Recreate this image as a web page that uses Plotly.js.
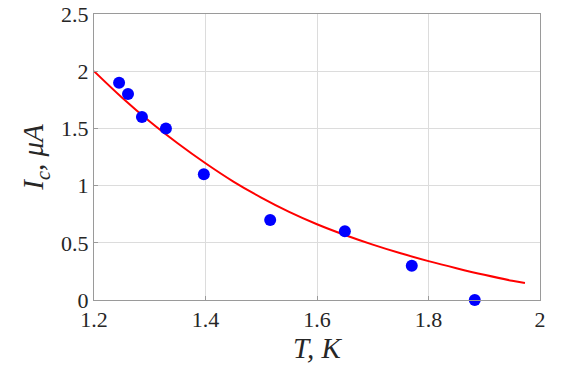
<!DOCTYPE html>
<html>
<head>
<meta charset="utf-8">
<script src="https://cdn.plot.ly/plotly-3.0.1.min.js"></script>
<style>html,body{margin:0;padding:0;background:#fff;}#chart{width:567px;height:371px;}</style>
</head>
<body>
<div id="chart"></div>
<script>
// Measured data points
const tempK = [1.245, 1.261, 1.286, 1.329, 1.397, 1.516, 1.650, 1.770, 1.883];
const currentUA = [1.90, 1.80, 1.60, 1.50, 1.10, 0.70, 0.60, 0.30, 0.00];

// Fit curve
const fitT = [1.20, 1.25, 1.30, 1.35, 1.40, 1.45, 1.50, 1.55, 1.60, 1.65, 1.70, 1.75, 1.80, 1.85, 1.90, 1.95, 1.973];
const fitI = [2.000, 1.770, 1.560, 1.370, 1.195, 1.035, 0.895, 0.770, 0.662, 0.568, 0.484, 0.408, 0.340, 0.278, 0.220, 0.168, 0.148];

const xTicks = [1.2, 1.4, 1.6, 1.8, 2];
const xTickLabels = ['1.2', '1.4', '1.6', '1.8', '2'];
const yTicks = [0, 0.5, 1, 1.5, 2, 2.5];
const yTickLabels = ['0', '0.5', '1', '1.5', '2', '2.5'];

const serif = 'Liberation Serif';

const traces = [
  {
    x: fitT, y: fitI, type: 'scatter', mode: 'lines',
    line: {color: '#ff0000', width: 2, shape: 'spline', smoothing: 1},
    hoverinfo: 'skip', cliponaxis: false
  },
  {
    x: tempK, y: currentUA, type: 'scatter', mode: 'markers',
    marker: {color: '#0000ff', size: 12},
    cliponaxis: false
  }
];

function axis(extra) {
  return Object.assign({
    showline: true, mirror: true, linecolor: '#9a9a9a', linewidth: 1,
    showgrid: true, gridcolor: '#dcdcdc', gridwidth: 1,
    zeroline: false,
    ticks: 'inside', ticklen: 4, tickcolor: '#9a9a9a',
    tickfont: {family: serif, size: 22, color: '#262626'}
  }, extra);
}

const layout = {
  width: 567, height: 371,
  margin: {l: 94, r: 27, t: 14, b: 71},
  paper_bgcolor: '#ffffff', plot_bgcolor: '#ffffff',
  font: {family: serif, size: 22, color: '#262626'},
  showlegend: false,
  xaxis: axis({
    range: [1.2, 2], tickvals: xTicks, ticktext: xTickLabels,
    title: {text: '<i>T, K</i>', font: {family: serif, size: 29, color: '#262626'}, standoff: 5}
  }),
  yaxis: axis({
    range: [0, 2.5], tickvals: yTicks, ticktext: yTickLabels,
    title: {text: '<i>I<sub>c</sub>, μA</i>', font: {family: serif, size: 29, color: '#262626'}, standoff: 8}
  })
};

Plotly.newPlot('chart', traces, layout, {displayModeBar: false, staticPlot: true});
</script>
</body>
</html>
